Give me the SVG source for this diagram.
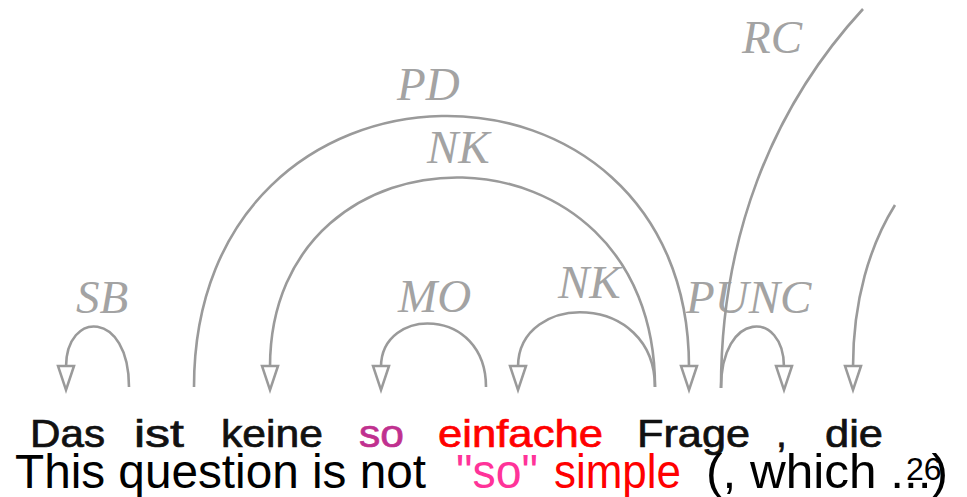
<svg xmlns="http://www.w3.org/2000/svg" width="967" height="497" viewBox="0 0 967 497">
<style>
.arc{fill:none;stroke:#9a9a9a;stroke-width:2.6;marker-end:url(#ah)}
.arcn{fill:none;stroke:#9a9a9a;stroke-width:2.6}
.lbl{font-family:"Liberation Serif",serif;font-style:italic;font-size:47px;fill:#a3a3a3}
.w{font-family:"Liberation Sans",Arial,sans-serif;font-size:39px;fill:#111;stroke:#111;stroke-width:0.7}
.t{font-family:"Liberation Sans",Arial,sans-serif;font-size:48px;fill:#000}
</style>
<defs>
<marker id="ah" markerUnits="userSpaceOnUse" markerWidth="30" markerHeight="20" refX="1" refY="8" orient="auto" overflow="visible">
<path d="M0,0 L24,8 L0,16 Z" fill="#fff" stroke="#9a9a9a" stroke-width="2.5"/>
</marker>
</defs>
<rect width="967" height="497" fill="#fff"/>
<g id="connectors">
<g id="e-sb"><path class="arc" d="M129,387 C129,310 66,310 66,367"/><text class="lbl" x="76" y="313">SB</text></g>
<g id="e-pd"><path class="arc" d="M194,387 C194,29 689,29 689,367"/><text class="lbl" x="397" y="100">PD</text></g>
<g id="e-nk1"><path class="arc" d="M655,387 C655,111 270,111 270,367"/><text class="lbl" x="427" y="163">NK</text></g>
<g id="e-mo"><path class="arc" d="M486,387 C486,306 381,306 381,367"/><text class="lbl" x="398" y="312">MO</text></g>
<g id="e-nk2"><path class="arc" d="M655,387 C655,291 518,291 518,367"/><text class="lbl" x="558" y="298">NK</text></g>
<g id="e-punc"><path class="arc" d="M721,388 C721,310 784,310 784,367"/><text class="lbl" x="686" y="313">PUNC</text></g>
<g id="e-rc"><path class="arcn" d="M721,388 C721,240 770,110 863,9"/><text class="lbl" x="742" y="53">RC</text></g>
<g id="e-die"><path class="arc" d="M895,205 C870,245 853,300 853,367"/></g>
</g>
<g id="n-das"><text class="w" x="30" y="447" textLength="75" lengthAdjust="spacingAndGlyphs">Das</text></g>
<g id="n-ist"><text class="w" x="134" y="447" textLength="50" lengthAdjust="spacingAndGlyphs">ist</text></g>
<g id="n-keine"><text class="w" x="221" y="447" textLength="102" lengthAdjust="spacingAndGlyphs">keine</text></g>
<g id="n-so"><text class="w" x="359" y="447" textLength="45" lengthAdjust="spacingAndGlyphs" style="fill:#c0308f;stroke:#c0308f">so</text></g>
<g id="n-einfache"><text class="w" x="438" y="447" textLength="165" lengthAdjust="spacingAndGlyphs" style="fill:#ff0000;stroke:#ff0000">einfache</text></g>
<g id="n-frage"><text class="w" x="637" y="447" textLength="113" lengthAdjust="spacingAndGlyphs">Frage</text></g>
<g id="n-comma"><text class="w" x="776" y="447">,</text></g>
<g id="n-die"><text class="w" x="825" y="447" textLength="58" lengthAdjust="spacingAndGlyphs">die</text></g>
<g id="translation">
<text class="t" x="15" y="488" textLength="411" lengthAdjust="spacingAndGlyphs">This question is not</text>
<text class="t" x="456" y="488" textLength="82" lengthAdjust="spacingAndGlyphs" style="fill:#ff3399">"so"</text>
<text class="t" x="554" y="488" textLength="127" lengthAdjust="spacingAndGlyphs" style="fill:#ff0000">simple</text>
<text class="t" x="706" y="488" textLength="242" lengthAdjust="spacingAndGlyphs">(, which ...)</text>
<text class="t" x="906" y="480" style="font-size:32px">26</text>
</g>
</svg>
